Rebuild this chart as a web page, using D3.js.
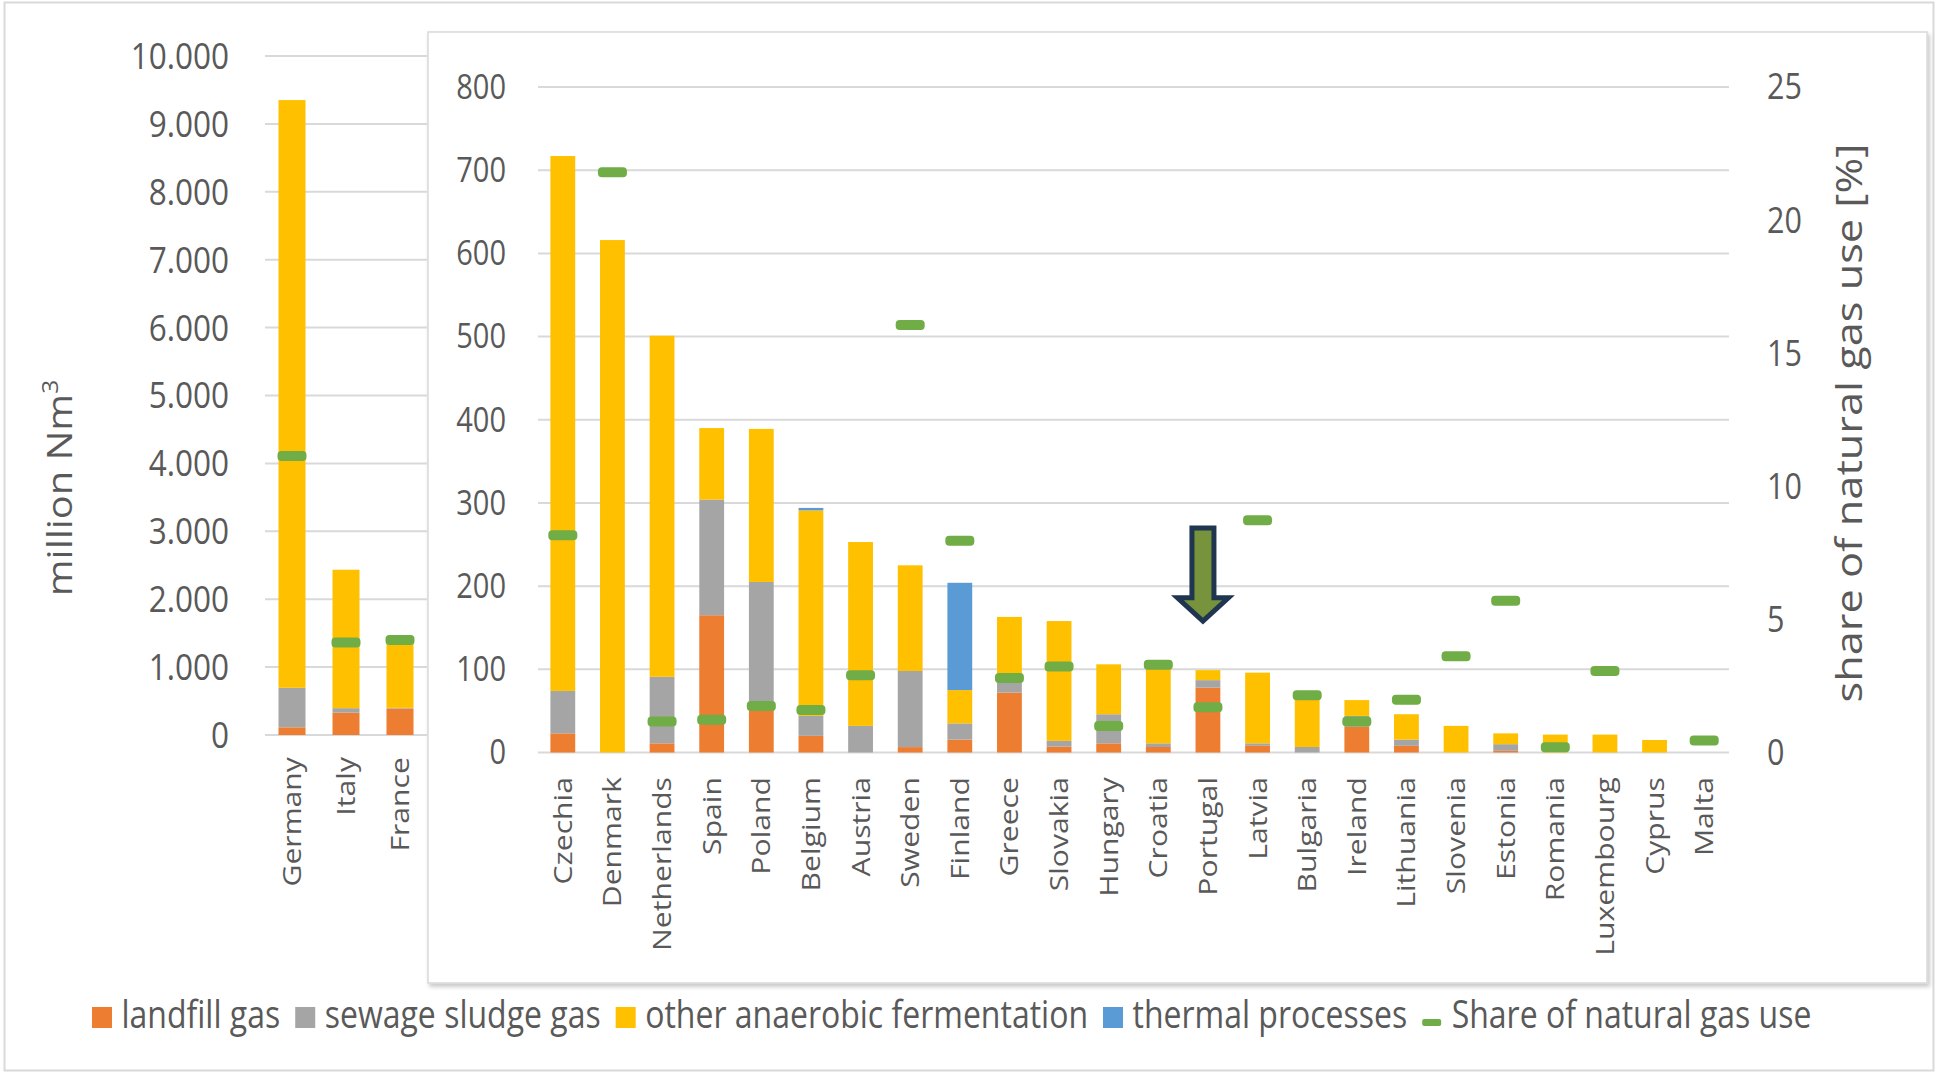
<!DOCTYPE html>
<html>
<head>
<meta charset="utf-8">
<script src="https://cdn.jsdelivr.net/npm/d3@7"></script>
<style>
  body { margin: 0; background: #fff; }
  svg text { font-family: "Open Sans", sans-serif; fill: #595959; }
</style>
</head>
<body>
<div id="chart"></div>
<script>
// Left panel: the three big producers (million Nm3)
var bigCountries = ["Germany", "Italy", "France"];
var bigLandfill = [113, 329, 390];
var bigSewage = [582, 66, 10];
var bigOther = [8656, 2039, 980];
var bigThermal = [0, 0, 0];
var bigShare = [10.27, 3.41, 3.5];

// Right panel: the other member states (million Nm3)
var countries = ["Czechia", "Denmark", "Netherlands", "Spain", "Poland", "Belgium", "Austria", "Sweden",
	"Finland", "Greece", "Slovakia", "Hungary", "Croatia", "Portugal", "Latvia", "Bulgaria", "Ireland",
	"Lithuania", "Slovenia", "Estonia", "Romania", "Luxembourg", "Cyprus", "Malta"];
var landfill = [23, 0, 11, 165, 52, 20, 0, 6.5, 15.5, 72, 7, 11, 6.6, 78, 8, 0, 31, 8, 0, 2, 0, 0, 0, 0];
var sewage = [51, 0, 80, 139, 153, 24, 32, 91.5, 19.5, 18, 7, 35, 4.4, 9, 3, 6.6, 13, 7.5, 0, 8, 0, 0, 0, 0];
var other = [643, 616, 410, 86, 184, 247, 221, 127, 40, 73, 144, 60, 96, 12, 85, 57.4, 19, 30.5, 32, 13, 21.5, 21.5, 15, 0];
var thermal = [0, 0, 0, 0, 0, 3, 0, 0, 129, 0, 0, 0, 0, 0, 0, 0, 0, 0, 0, 0, 0, 0, 0, 0];
// share of natural gas use [%], null = no value
var share = [8.16, 21.8, 1.16, 1.23, 1.75, 1.6, 2.9, 16.06, 7.95, 2.8, 3.23, 1.0, 3.3, 1.7, 8.72, 2.15,
	1.16, 1.98, 3.62, 5.7, 0.2, 3.06, null, 0.45];

var bigTicks = d3.range(0, 10001, 1000);
var smallTicks = d3.range(0, 801, 100);
var shareTicks = [0, 5, 10, 15, 20, 25];

var keys = ["landfill", "sewage", "other", "thermal"];
var seriesNames = ["landfill gas", "sewage sludge gas", "other anaerobic fermentation", "thermal processes"];
var seriesColors = ["#ED7D31", "#A5A5A5", "#FFC000", "#5B9BD5"];
var shareName = "Share of natural gas use";
var shareColor = "#70AD47";

// the source picture is stretched a bit vertically, texts follow it
var S = 1.17;
var width = 1937, height = 1073;

var svg = d3.select("#chart").append("svg")
	.attr("width", width)
	.attr("height", height);

var defs = svg.append("defs");
var shadow = defs.append("filter").attr("id", "shadow")
	.attr("x", "-2%").attr("y", "-2%").attr("width", "104%").attr("height", "104%");
shadow.append("feDropShadow")
	.attr("dx", 2).attr("dy", 3).attr("stdDeviation", 2)
	.attr("flood-color", "#000").attr("flood-opacity", 0.22);

// outer frame
svg.append("rect")
	.attr("x", 4.5).attr("y", 2.5)
	.attr("width", 1929).attr("height", 1068)
	.attr("fill", "#fff")
	.attr("stroke", "#d9d9d9").attr("stroke-width", 2);

// inner box of the right chart
svg.append("rect")
	.attr("x", 428).attr("y", 32)
	.attr("width", 1499).attr("height", 951)
	.attr("fill", "#fff")
	.attr("stroke", "#d9d9d9").attr("stroke-width", 1.5)
	.attr("filter", "url(#shadow)");

var fmtDot = d3.formatLocale({ decimal: ",", thousands: ".", grouping: [3], currency: ["", ""] }).format(",");

function hText(g, x, y, str, anchor, size) {
	return g.append("text")
		.attr("transform", "translate(" + x + "," + y + ") scale(1," + S + ")")
		.attr("text-anchor", anchor)
		.attr("dy", "0.35em")
		.style("font-size", size + "px")
		.text(str);
}

function vText(g, x, y, str, anchor, size) {
	return g.append("text")
		.attr("transform", "translate(" + x + "," + y + ") rotate(-90) scale(" + S + ",1)")
		.attr("text-anchor", anchor)
		.attr("dy", "0.35em")
		.style("font-size", size + "px")
		.text(str);
}

function drawPanel(p) {
	var rows = p.cats.map(function (c, i) {
		return { country: c, landfill: p.landfill[i], sewage: p.sewage[i], other: p.other[i], thermal: p.thermal[i], share: p.share[i] };
	});

	var x = d3.scaleBand().domain(p.cats).range(p.xRange).paddingInner(0.5).paddingOuter(0.25);
	var y = d3.scaleLinear().domain([0, d3.max(p.ticks)]).range(p.yRange);
	var y2 = d3.scaleLinear().domain([0, 25]).range(p.yRange);

	var g = svg.append("g");

	// gridlines
	g.selectAll(".grid")
		.data(p.ticks)
		.enter().append("line")
		.attr("x1", p.xRange[0]).attr("x2", p.xRange[1])
		.attr("y1", (d) => y(d)).attr("y2", (d) => y(d))
		.attr("stroke", "#d9d9d9").attr("stroke-width", 2);

	p.ticks.forEach(function (t) {
		hText(g, p.labelX, y(t), p.fmt(t), "end", p.tickSize);
	});

	var stacked = d3.stack().keys(keys)(rows);
	g.selectAll(".series")
		.data(stacked)
		.enter().append("g")
		.attr("fill", (d, i) => seriesColors[i])
		.selectAll("rect")
		.data((d) => d)
		.enter().append("rect")
		.attr("x", (d) => x(d.data.country))
		.attr("width", x.bandwidth())
		.attr("y", (d) => y(d[1]))
		.attr("height", (d) => y(d[0]) - y(d[1]));

	// share markers
	g.selectAll(".share")
		.data(rows.filter((d) => d.share != null))
		.enter().append("rect")
		.attr("x", (d) => x(d.country) + x.bandwidth() / 2 - 14.5)
		.attr("width", 29)
		.attr("y", (d) => y2(d.share) - 5)
		.attr("height", 10)
		.attr("rx", 4)
		.attr("fill", shareColor);

	// country names
	p.cats.forEach(function (c) {
		vText(g, x(c) + x.bandwidth() / 2, p.catY, c, "end", 25.8);
	});

	if (p.rightAxis) {
		shareTicks.forEach(function (t) {
			hText(g, p.rightLabelX, y2(t), t, "start", 30.5);
		});
	}

	return { x: x, y: y };
}

drawPanel({
	cats: bigCountries, landfill: bigLandfill, sewage: bigSewage, other: bigOther, thermal: bigThermal, share: bigShare,
	ticks: bigTicks, fmt: fmtDot, xRange: [265, 427], yRange: [735, 56], labelX: 229, tickSize: 31.5, catY: 757
});

var right = drawPanel({
	cats: countries, landfill: landfill, sewage: sewage, other: other, thermal: thermal, share: share,
	ticks: smallTicks, fmt: (d) => d, xRange: [538, 1729], yRange: [752.5, 87], labelX: 506, tickSize: 29, catY: 777,
	rightAxis: true, rightLabelX: 1767
});

// arrow pointing at Portugal
var ax = right.x("Portugal") + right.x.bandwidth() / 2 - 5;
var ay = right.y;
var arrow = [
	[ax - 11, ay(270)], [ax + 11, ay(270)], [ax + 11, ay(186)], [ax + 25.5, ay(186)],
	[ax, ay(158)], [ax - 25.5, ay(186)], [ax - 11, ay(186)]
];
svg.append("path")
	.attr("d", d3.line()(arrow) + "Z")
	.attr("fill", "#77933C")
	.attr("stroke", "#1F3550")
	.attr("stroke-width", 5)
	.attr("stroke-linejoin", "miter");

// axis titles
var t1 = svg.append("text")
	.attr("transform", "translate(72,488) rotate(-90) scale(" + S + ",1)")
	.attr("text-anchor", "middle")
	.style("font-size", "34px")
	.text("million Nm");
t1.append("tspan").attr("dy", -14).style("font-size", "21px").text("3");

svg.append("text")
	.attr("transform", "translate(1862,423) rotate(-90) scale(" + S + ",1)")
	.attr("text-anchor", "middle")
	.style("font-size", "37px")
	.text("share of natural gas use [%]");

// legend
var legend = svg.append("g");
var lx = 92;
seriesNames.concat([shareName]).forEach(function (name, i) {
	if (i < 4) {
		legend.append("rect")
			.attr("x", lx).attr("y", 1007)
			.attr("width", 20).attr("height", 21)
			.attr("fill", seriesColors[i]);
	} else {
		legend.append("rect")
			.attr("x", lx).attr("y", 1019)
			.attr("width", 19).attr("height", 7)
			.attr("rx", 2)
			.attr("fill", shareColor);
	}
	var t = legend.append("text")
		.attr("transform", "translate(" + (lx + 29.5) + ",1028) scale(1," + S + ")")
		.style("font-size", "32px")
		.text(name);
	lx += 29.5 + t.node().getComputedTextLength() + 15;
});
</script>
</body>
</html>
